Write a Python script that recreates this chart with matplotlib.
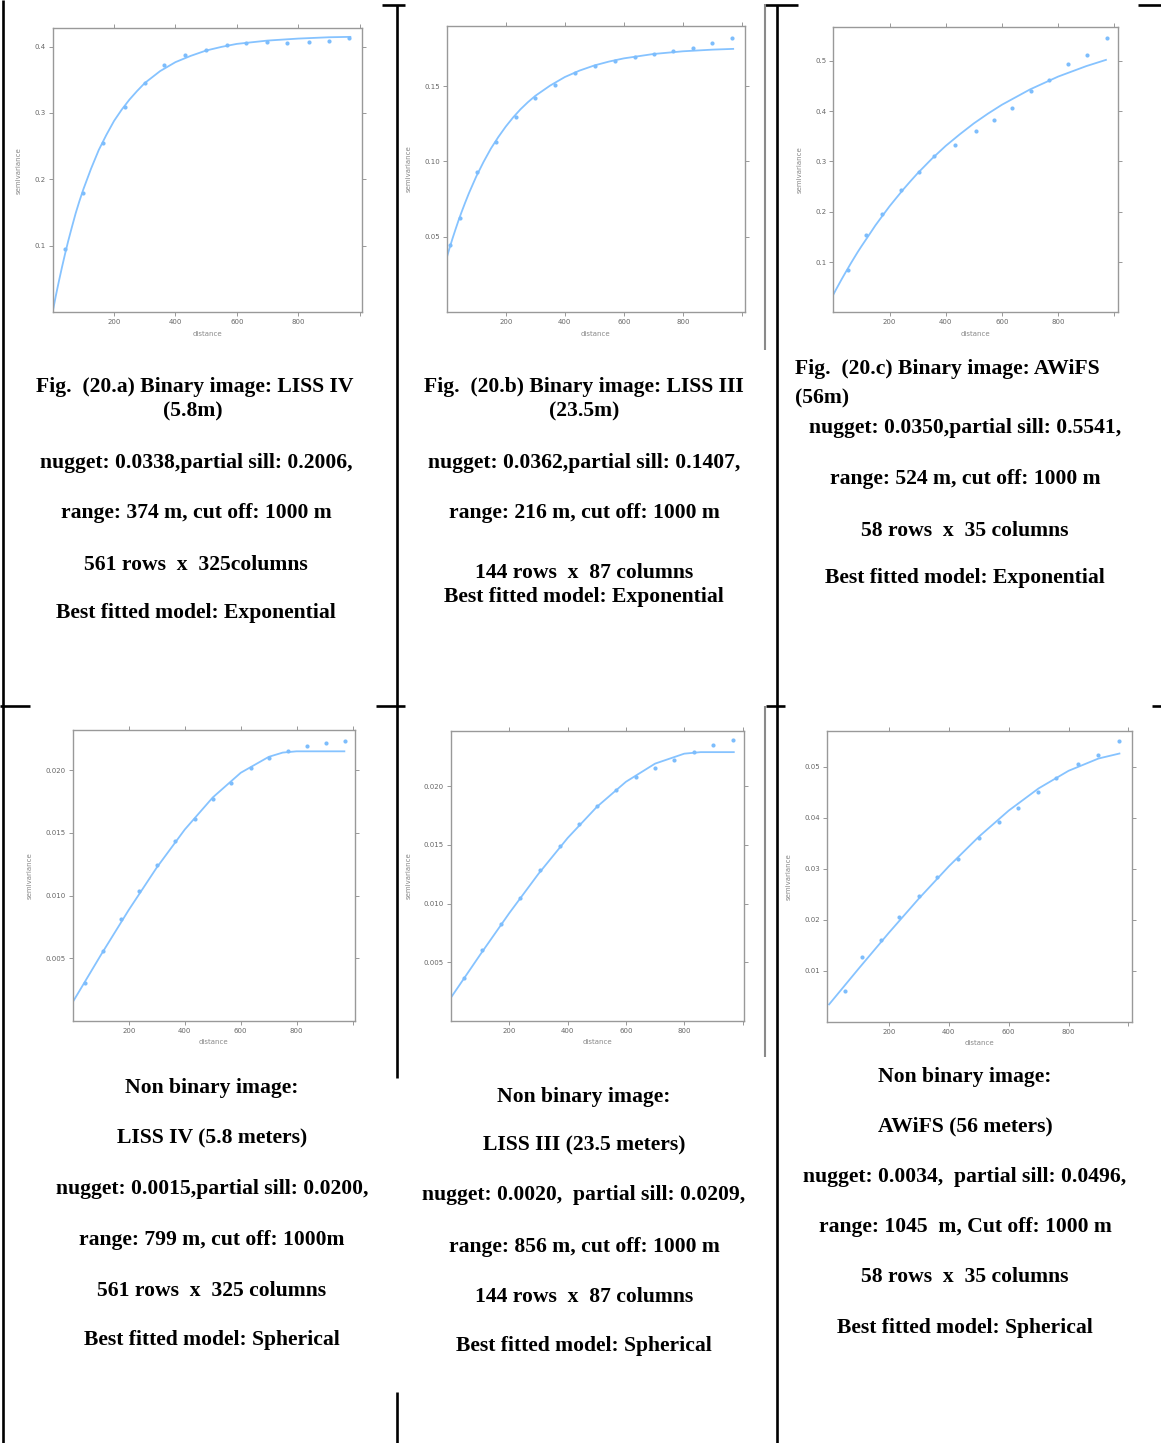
import numpy as np
import matplotlib
matplotlib.use('Agg')
import matplotlib.pyplot as plt
from matplotlib.lines import Line2D

W, H = 1161, 1443

# --- sample semivariogram points (distance, semivariance) ---
dist_a = [40, 98, 165, 234, 301, 363, 432, 500, 567, 630, 698, 765, 834, 899, 964]
gamma_a = [0.095, 0.18, 0.254, 0.309, 0.345, 0.372, 0.387, 0.395, 0.402, 0.406, 0.407, 0.406, 0.407, 0.409, 0.413]

dist_b = [10, 44, 104, 168, 233, 298, 368, 436, 502, 569, 637, 702, 767, 835, 899, 965]
gamma_b = [0.0445, 0.0625, 0.0928, 0.113, 0.1296, 0.142, 0.151, 0.1586, 0.1636, 0.167, 0.1695, 0.1717, 0.1732, 0.1757, 0.1787, 0.182]

dist_c = [52, 115, 174, 240, 304, 358, 434, 509, 572, 636, 703, 767, 836, 904, 973]
gamma_c = [0.0845, 0.153, 0.196, 0.2436, 0.279, 0.3115, 0.332, 0.36, 0.383, 0.407, 0.44, 0.462, 0.493, 0.512, 0.5465]

dist_d = [44, 107, 171, 238, 302, 365, 435, 500, 565, 637, 702, 768, 836, 905, 973]
gamma_d = [0.00306, 0.0056, 0.00812, 0.01034, 0.01244, 0.01433, 0.01612, 0.01771, 0.019, 0.02017, 0.02096, 0.0215, 0.02192, 0.0222, 0.02232]

dist_e = [46, 108, 171, 236, 305, 373, 439, 501, 566, 635, 701, 766, 834, 900, 966]
gamma_e = [0.00366, 0.00608, 0.00827, 0.01048, 0.0129, 0.01494, 0.01679, 0.0183, 0.01966, 0.02077, 0.02156, 0.02227, 0.02293, 0.0235, 0.0239]

dist_f = [53, 111, 173, 232, 299, 360, 430, 501, 569, 631, 697, 758, 830, 898, 967]
gamma_f = [0.00608, 0.0126, 0.016, 0.0206, 0.0247, 0.0284, 0.032, 0.0361, 0.0391, 0.042, 0.0451, 0.0478, 0.0505, 0.0524, 0.055]

# --- fitted model lines ---
curve_x_exp = [0, 10, 20, 30, 40, 50, 62, 75, 87, 100, 125, 150, 175, 200, 225, 250, 275, 300, 350,
               400, 450, 500, 550, 600, 700, 800, 900, 970]
curve_a = [0, 0.024, 0.046, 0.067, 0.087, 0.106, 0.127, 0.149, 0.167, 0.185, 0.216, 0.244, 0.267, 0.288,
           0.305, 0.320, 0.333, 0.345, 0.363, 0.3765, 0.386, 0.394, 0.3995, 0.404, 0.409, 0.412, 0.414, 0.4146]
curve_b = [0.036, 0.0427, 0.049, 0.055, 0.0608, 0.0662, 0.0724, 0.0788, 0.0842, 0.090, 0.0998, 0.1087,
           0.1163, 0.1232, 0.1293, 0.1347, 0.1394, 0.1436, 0.1504, 0.1561, 0.1604, 0.1638, 0.1664, 0.1685,
           0.1714, 0.1732, 0.1743, 0.1748]
curve_c = [0.035, 0.0456, 0.0558, 0.066, 0.0758, 0.0854, 0.097, 0.109, 0.120, 0.1312, 0.152, 0.173,
           0.192, 0.2108, 0.228, 0.245, 0.261, 0.2765, 0.305, 0.331, 0.354, 0.3757, 0.395, 0.4128,
           0.4433, 0.4688, 0.4896, 0.502]

curve_x_d = [0, 100, 200, 300, 400, 500, 600, 700, 750, 799, 970]
curve_d = [0.0015, 0.00524, 0.00885, 0.01223, 0.01526, 0.01782, 0.01979, 0.02106, 0.02140, 0.0215, 0.0215]
curve_x_e = [0, 100, 200, 300, 400, 500, 600, 700, 800, 856, 970]
curve_e = [0.002, 0.005645, 0.009192, 0.012537, 0.015585, 0.018231, 0.020375, 0.021922, 0.022769, 0.0229, 0.0229]
curve_x_f = [0, 100, 200, 300, 400, 500, 600, 700, 800, 900, 970]
curve_f = [0.0034, 0.0105, 0.01747, 0.02417, 0.03049, 0.03628, 0.04142, 0.04578, 0.04923, 0.05164, 0.05262]

# --- tick labels ---
yt_a = [0.1, 0.2, 0.3, 0.4]; ytl_a = ['0.1', '0.2', '0.3', '0.4']
yt_b = [0.05, 0.10, 0.15]; ytl_b = ['0.05', '0.10', '0.15']
yt_c = [0.1, 0.2, 0.3, 0.4, 0.5]; ytl_c = ['0.1', '0.2', '0.3', '0.4', '0.5']
yt_d = [0.005, 0.010, 0.015, 0.020]; ytl_d = ['0.005', '0.010', '0.015', '0.020']
yt_e = [0.005, 0.010, 0.015, 0.020]; ytl_e = ['0.005', '0.010', '0.015', '0.020']
yt_f = [0.01, 0.02, 0.03, 0.04, 0.05]; ytl_f = ['0.01', '0.02', '0.03', '0.04', '0.05']
xt = [200, 400, 600, 800, 1000]
xtl = ['200', '400', '600', '800', '']

# --- captions ---
cap_a = ['nugget: 0.0338,partial sill: 0.2006,', 'range: 374 m, cut off: 1000 m',
         '561 rows  x  325columns', 'Best fitted model: Exponential']
cap_b = ['nugget: 0.0362,partial sill: 0.1407,', 'range: 216 m, cut off: 1000 m',
         '144 rows  x  87 columns', 'Best fitted model: Exponential']
cap_c = ['nugget: 0.0350,partial sill: 0.5541,', 'range: 524 m, cut off: 1000 m',
         '58 rows  x  35 columns', 'Best fitted model: Exponential']
cap_d = ['Non binary image:', 'LISS IV (5.8 meters)', 'nugget: 0.0015,partial sill: 0.0200,',
         'range: 799 m, cut off: 1000m', '561 rows  x  325 columns', 'Best fitted model: Spherical']
cap_e = ['Non binary image:', 'LISS III (23.5 meters)', 'nugget: 0.0020,  partial sill: 0.0209,',
         'range: 856 m, cut off: 1000 m', '144 rows  x  87 columns', 'Best fitted model: Spherical']
cap_f = ['Non binary image:', 'AWiFS (56 meters)', 'nugget: 0.0034,  partial sill: 0.0496,',
         'range: 1045  m, Cut off: 1000 m', '58 rows  x  35 columns', 'Best fitted model: Spherical']

fig = plt.figure(figsize=(W / 100, H / 100), dpi=100)
fig.patch.set_facecolor('white')

PT_COL = '#7dbdfc'
LN_COL = '#86c3ff'


def px_axes(l, t, r, b):
    return fig.add_axes([l / W, 1 - b / H, (r - l) / W, (b - t) / H])


def variogram_panel(box, d, g, cx, cy, yt, ytl, xlim, ylim):
    ax = px_axes(*box)
    ax.plot(cx, cy, color=LN_COL, lw=1.3)
    ax.scatter(d, g, s=9, color=PT_COL, zorder=3, linewidths=0)
    ax.set_xlim(*xlim)
    ax.set_ylim(*ylim)
    ax.set_xticks(xt)
    ax.set_xticklabels(xtl)
    ax.set_yticks(yt)
    ax.set_yticklabels(ytl)
    ax.tick_params(direction='out', length=3, width=0.6, color='#888',
                   labelsize=5, labelcolor='#666', pad=2,
                   top=True, right=True)
    for s in ax.spines.values():
        s.set_color('#999')
        s.set_linewidth(1.0)
    ax.set_xlabel('distance', fontsize=5, color='#888', labelpad=4)
    ax.set_ylabel('semivariance', fontsize=5, color='#888', labelpad=9)
    return ax


variogram_panel((52.7, 28.3, 361.7, 312), dist_a, gamma_a, curve_x_exp, curve_a,
                yt_a, ytl_a, (0, 1007), (0, 0.4275))
variogram_panel((446.7, 26, 745, 312), dist_b, gamma_b, curve_x_exp, curve_b,
                yt_b, ytl_b, (0, 1010), (0, 0.19))
variogram_panel((833.3, 26.7, 1118.3, 312.3), dist_c, gamma_c, curve_x_exp, curve_c,
                yt_c, ytl_c, (0, 1014), (0, 0.568))
variogram_panel((72.7, 730, 355, 1021), dist_d, gamma_d, curve_x_d, curve_d,
                yt_d, ytl_d, (0, 1008), (0, 0.0232))
variogram_panel((451, 731, 744, 1021), dist_e, gamma_e, curve_x_e, curve_e,
                yt_e, ytl_e, (0, 1005), (0, 0.0247))
variogram_panel((827.3, 730.7, 1131.7, 1021.7), dist_f, gamma_f, curve_x_f, curve_f,
                yt_f, ytl_f, (-6, 1011), (0, 0.0571))

# --- caption text ---
TXT = dict(fontfamily='Liberation Serif', fontweight='bold', fontsize=15.6,
           color='black', va='center')


def put(x, y, s, ha='center'):
    fig.text(x / W, 1 - y / H, s, ha=ha, **TXT)


put(195, 387, 'Fig.  (20.a) Binary image: LISS IV')
put(193, 411, '(5.8m)')
for y, s in zip([463, 513, 565, 613], cap_a):
    put(196, y, s)

put(584, 387, 'Fig.  (20.b) Binary image: LISS III')
put(584, 411, '(23.5m)')
for y, s in zip([463, 513, 573, 597], cap_b):
    put(584, y, s)

put(795, 369, 'Fig.  (20.c) Binary image: AWiFS', ha='left')
put(795, 398, '(56m)', ha='left')
for y, s in zip([428, 479, 531, 578], cap_c):
    put(965, y, s)

for y, s in zip([1088, 1138, 1189, 1240, 1291, 1340], cap_d):
    put(212, y, s)
for y, s in zip([1097, 1145, 1195, 1247, 1297, 1346], cap_e):
    put(584, y, s)
for y, s in zip([1077, 1126, 1177, 1227, 1277, 1328], cap_f):
    put(965, y, s)


# --- table rules ---
def rule(x0, y0, x1, y1, color='black', lw=1.9):
    fig.add_artist(Line2D([x0 / W, x1 / W], [1 - y0 / H, 1 - y1 / H],
                          color=color, lw=lw, solid_capstyle='butt'))


rule(3, 0, 3, H)
rule(397, 5, 397, 1078)
rule(397, 1392, 397, H)
rule(777, 5, 777, H)
rule(382, 5, 405, 5)
rule(765, 5, 798, 5)
rule(1138, 5, W, 5)
rule(0, 706, 30, 706)
rule(376, 706, 405, 706)
rule(766, 706, 785, 706)
rule(1152, 706, W, 706)
rule(765, 4, 765, 350, color='#8a8a8a', lw=1.5)
rule(765, 706, 765, 1057, color='#8a8a8a', lw=1.5)

fig.savefig('out.png', dpi=100, facecolor='white')
